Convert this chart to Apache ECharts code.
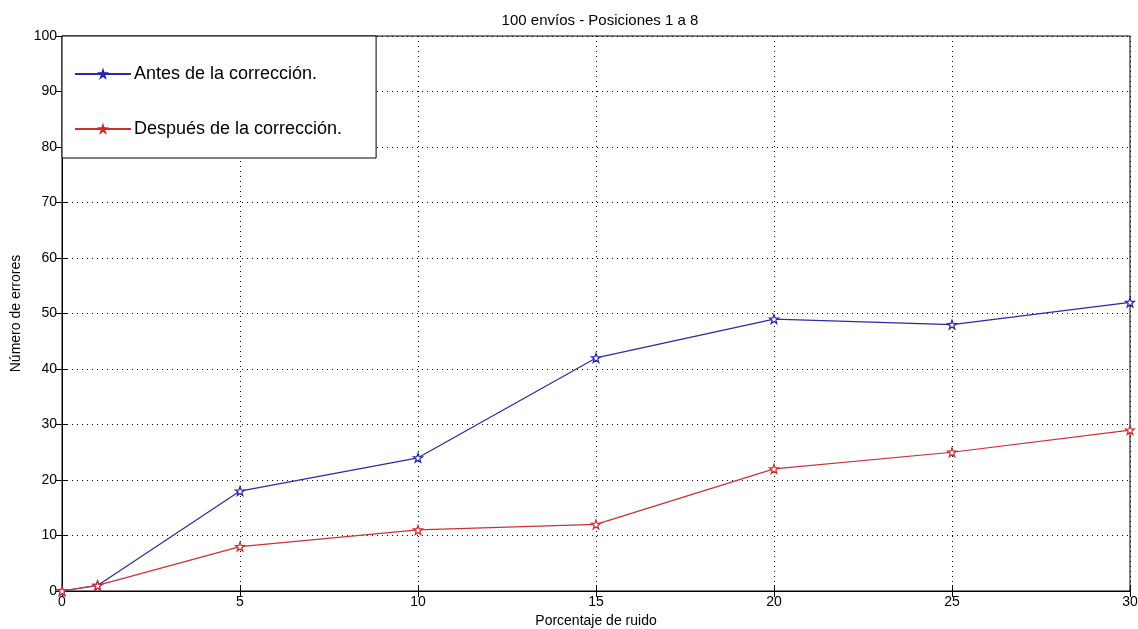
<!DOCTYPE html>
<html>
<head>
<meta charset="utf-8">
<script src="https://cdn.jsdelivr.net/npm/echarts@6/dist/echarts.min.js"></script>
<style>
  html, body { margin: 0; padding: 0; background: #fff; }
  #chart { width: 1138px; height: 629px; }
</style>
</head>
<body>
<div id="chart"></div>
<script>
// datos
var ruido = [0, 1, 5, 10, 15, 20, 25, 30];
var antes = [0, 1, 18, 24, 42, 49, 48, 52];
var despues = [0, 1, 8, 11, 12, 22, 25, 29];
var nombres = ['Antes de la corrección.', 'Después de la corrección.'];

var estrella = 'path://M0,-10 L2.35,-3.24 L9.51,-3.09 L3.8,1.24 L5.88,8.09 L0,4 L-5.88,8.09 L-3.8,1.24 L-9.51,-3.09 L-2.35,-3.24 Z';
var fuente = 'Liberation Sans, Arial, sans-serif';

function pares(ys) {
  return ruido.map(function (x, i) { return [x, ys[i]]; });
}

var chart = echarts.init(document.getElementById('chart'));
var option = {
  animation: false,
  backgroundColor: '#fff',
  title: {
    text: '100 envíos - Posiciones 1 a 8',
    left: 595, top: 8, textAlign: 'center',
    textStyle: { fontFamily: fuente, fontSize: 15, fontWeight: 'normal', color: '#000' }
  },
  grid: {
    left: 62, right: 8, top: 36, bottom: 38,
    outerBoundsMode: 'none', containLabel: false,
    show: true, borderColor: '#000', borderWidth: 1, backgroundColor: '#fff'
  },
  legend: {
    left: 62, top: 36,
    orient: 'vertical',
    backgroundColor: '#fff',
    borderColor: '#000', borderWidth: 1, borderRadius: 0,
    padding: [29, 34, 20, 12],
    itemGap: 37,
    itemWidth: 56, itemHeight: 8,
    textStyle: { fontFamily: fuente, fontSize: 18, color: '#000', padding: [0, 0, 0, -2] },
    data: nombres
  },
  xAxis: [{
    type: 'value', min: 0, max: 30, interval: 5,
    name: 'Porcentaje de ruido', nameLocation: 'middle', nameGap: 23,
    nameTextStyle: { fontFamily: fuente, fontSize: 14, color: '#000' },
    axisLine: { lineStyle: { color: '#000' } },
    axisTick: { inside: true, length: 6, lineStyle: { color: '#000' } },
    axisLabel: { fontFamily: fuente, fontSize: 14, color: '#000', margin: 4 },
    splitLine: { show: true, lineStyle: { color: '#000', type: [1, 4], width: 1 } }
  }, {
    type: 'value', min: 0, max: 30, interval: 5, position: 'top',
    axisLine: { lineStyle: { color: '#000' } },
    axisTick: { inside: true, length: 6, lineStyle: { color: '#000' } },
    axisLabel: { show: false }, splitLine: { show: false }
  }],
  yAxis: [{
    type: 'value', min: 0, max: 100, interval: 10,
    name: 'Número de errores', nameLocation: 'middle', nameGap: 34,
    nameTextStyle: { fontFamily: fuente, fontSize: 14, color: '#000' },
    axisLine: { show: true, lineStyle: { color: '#000' } },
    axisTick: { show: true, inside: true, length: 6, lineStyle: { color: '#000' } },
    axisLabel: { fontFamily: fuente, fontSize: 14, color: '#000', margin: 5 },
    splitLine: { show: true, lineStyle: { color: '#000', type: [1, 4], width: 1 } }
  }, {
    type: 'value', min: 0, max: 100, interval: 10, position: 'right',
    axisLine: { show: true, lineStyle: { color: '#000' } },
    axisTick: { show: true, inside: true, length: 6, lineStyle: { color: '#000' } },
    axisLabel: { show: false }, splitLine: { show: false }
  }],
  series: [{
    name: nombres[0], type: 'line', data: pares(antes),
    symbol: estrella, symbolSize: 9, showAllSymbol: true,
    itemStyle: { color: '#fff', borderColor: '#2222b0', borderWidth: 1.2 },
    lineStyle: { color: '#2a2aa8', width: 1.2 },
    z: 3
  }, {
    name: nombres[1], type: 'line', data: pares(despues),
    symbol: estrella, symbolSize: 9, showAllSymbol: true,
    itemStyle: { color: '#fff', borderColor: '#cc2a2a', borderWidth: 1.2 },
    lineStyle: { color: '#cc3030', width: 1.2 },
    z: 3
  }]
};
chart.setOption(option);
</script>
</body>
</html>
